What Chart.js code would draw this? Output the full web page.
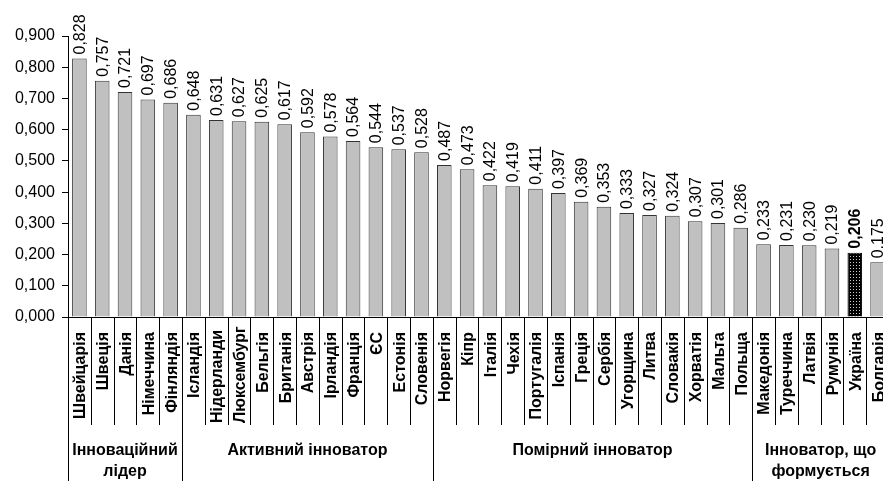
<!DOCTYPE html>
<html><head><meta charset="utf-8">
<script src="https://cdn.jsdelivr.net/npm/chart.js@4"></script>
<style>html,body{margin:0;padding:0;overflow:hidden;background:#fff}#wrap{width:889px;height:481px;position:relative}</style>
</head><body><div id="wrap"><canvas id="c"></canvas></div>
<script>
const categories = ['Швейцарія','Швеція','Данія','Німеччина','Фінляндія','Ісландія','Нідерланди','Люксембург','Бельгія','Британія','Австрія','Ірландія','Франція','ЄС','Естонія','Словенія','Норвегія','Кіпр','Італія','Чехія','Португалія','Іспанія','Греція','Сербія','Угорщина','Литва','Словакія','Хорватія','Мальта','Польща','Македонія','Туреччина','Латвія','Румунія','Україна','Болгарія'];
const values = [0.828,0.757,0.721,0.697,0.686,0.648,0.631,0.627,0.625,0.617,0.592,0.578,0.564,0.544,0.537,0.528,0.487,0.473,0.422,0.419,0.411,0.397,0.369,0.353,0.333,0.327,0.324,0.307,0.301,0.286,0.233,0.231,0.230,0.219,0.206,0.175];
const groupNames = ['Інноваційний\nлідер','Активний інноватор','Помірний інноватор','Інноватор, що\nформується'];
const groupSizes = [5,11,14,6];
const highlight = 'Україна';
const yMin = 0, yMax = 0.9, yStep = 0.1;

const FONT = '"Liberation Sans", Arial, sans-serif';
const fmt = v => v.toFixed(3).replace('.', ',');

function makePattern(){
  const p = document.createElement('canvas'); p.width = 3; p.height = 3;
  const c = p.getContext('2d');
  c.fillStyle = '#000'; c.fillRect(0,0,3,3);
  c.fillStyle = '#d0d0d0'; c.fillRect(1,1,1,1);
  return document.getElementById('c').getContext('2d').createPattern(p,'repeat');
}
const pattern = makePattern();
const fills = categories.map(c => c === highlight ? pattern : '#c0c0c0');
const borders = categories.map(c => c === highlight ? '#000' : '#333');

const decor = {
  id: 'decor',
  afterDraw(chart){
    const ctx = chart.ctx, x = chart.scales.x, area = chart.chartArea;
    const n = categories.length;
    const w = (x.right - x.left) / n;
    const sepLen = 108;
    ctx.save();
    ctx.strokeStyle = '#000'; ctx.lineWidth = 1;
    const ends = new Set([0]); let acc = 0;
    groupSizes.forEach(s => { acc += s; ends.add(acc); });
    for (let i = 0; i <= n; i++){
      const px = Math.round(x.getPixelForValue(i) - w/2) + 0.5;
      const end = ends.has(i) ? chart.height : area.bottom + sepLen;
      ctx.beginPath(); ctx.moveTo(px, area.bottom); ctx.lineTo(px, end); ctx.stroke();
    }
    ctx.fillStyle = '#000';
    // category labels (rotated, top-aligned, pushed up when too long)
    ctx.font = 'bold 16px ' + FONT;
    categories.forEach((lab, i) => {
      const tw = ctx.measureText(lab).width;
      const startY = Math.min(area.bottom + 15, area.bottom + sepLen - 2 - tw);
      ctx.save();
      ctx.translate(x.getPixelForValue(i) + 0.5, startY);
      ctx.rotate(-Math.PI/2);
      ctx.textAlign = 'right'; ctx.textBaseline = 'middle';
      ctx.fillText(lab, 0, 1);
      ctx.restore();
    });
    // group labels
    ctx.textAlign = 'center'; ctx.textBaseline = 'middle';
    let start = 0;
    groupSizes.forEach((s, g) => {
      const cx = x.getPixelForValue(start) - w/2 + s*w/2;
      groupNames[g].split('\n').forEach((line, k) => ctx.fillText(line, cx, area.bottom + 134 + k*21));
      start += s;
    });
    // value labels
    const meta = chart.getDatasetMeta(0);
    meta.data.forEach((bar, i) => {
      ctx.save();
      ctx.translate(bar.x, bar.y - 4);
      ctx.rotate(-Math.PI/2);
      ctx.textAlign = 'left'; ctx.textBaseline = 'middle';
      ctx.font = (categories[i] === highlight ? 'bold ' : '') + '16px ' + FONT;
      ctx.fillText(fmt(values[i]), 0, 1);
      ctx.restore();
    });
    ctx.restore();
  }
};

new Chart(document.getElementById('c'), {
  type: 'bar',
  data: { labels: categories, datasets: [{ data: values, backgroundColor: fills, borderColor: borders, borderWidth: 1, barPercentage: 0.64, categoryPercentage: 1 }] },
  options: {
    responsive: true, maintainAspectRatio: false, animation: false,
    layout: { padding: { top: 36, left: 0, right: 0, bottom: 0 } },
    plugins: { legend: { display: false }, tooltip: { enabled: false } },
    scales: {
      x: {
        offset: true,
        grid: { display: false },
        border: { display: true, color: '#000', width: 1 },
        ticks: { display: false, autoSkip: false },
        afterFit(s){ s.height = 164; }
      },
      y: {
        min: yMin, max: yMax,
        grid: { drawOnChartArea: false, drawTicks: true, tickLength: 6, color: '#000' },
        border: { display: true, color: '#000', width: 1 },
        ticks: { stepSize: yStep, padding: 7, color: '#000', font: { family: FONT, size: 16 }, callback: v => fmt(v) },
        afterFit(s){ s.width = 68; }
      }
    }
  },
  plugins: [decor]
});
</script></body></html>
